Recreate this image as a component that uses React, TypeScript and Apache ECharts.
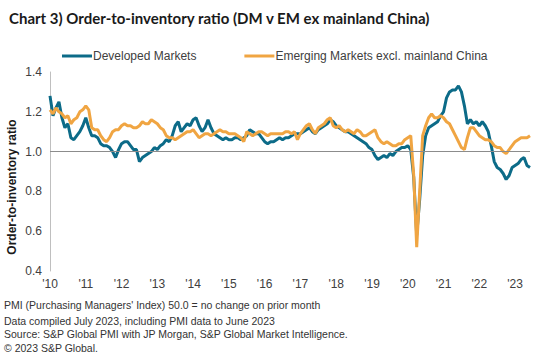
import React, { useEffect, useRef } from "react";
import * as echarts from "echarts";

const years = ["10","11","12","13","14","15","16","17","18","19","20","21","22","23"];

const dm2010 = [1.28,1.18,1.22,1.25,1.17,1.12,1.14,1.07,1.06,1.08,1.10,1.13];
const dm2011 = [1.17,1.12,1.08,1.08,1.07,1.04,1.03,1.03,1.02,1.00,0.97,1.01];
const dm2012 = [1.04,1.05,1.05,1.03,1.01,1.01,0.95,0.97,0.98,0.99,1.00,1.02];
const dm2013 = [1.01,1.03,1.04,1.06,1.05,1.08,1.13,1.15,1.10,1.12,1.14,1.13];
const dm2014 = [1.16,1.17,1.13,1.10,1.12,1.16,1.12,1.09,1.08,1.07,1.06,1.07];
const dm2015 = [1.06,1.06,1.07,1.07,1.06,1.07,1.08,1.11,1.10,1.09,1.09,1.07];
const dm2016 = [1.05,1.04,1.05,1.05,1.06,1.07,1.06,1.07,1.07,1.08,1.09,1.09];
const dm2017 = [1.09,1.10,1.11,1.12,1.10,1.09,1.11,1.12,1.13,1.14,1.16,1.15];
const dm2018 = [1.13,1.12,1.11,1.10,1.10,1.09,1.08,1.07,1.06,1.05,1.04,1.02];
const dm2019 = [1.01,0.98,0.96,0.97,0.98,0.97,0.99,0.98,1.00,1.01,1.02,1.02];
const dm2020 = [1.03,1.01,0.87,0.58,0.76,0.98,1.08,1.12,1.13,1.14,1.15,1.18];
const dm2021 = [1.20,1.27,1.30,1.31,1.31,1.33,1.30,1.23,1.14,1.16,1.14,1.15];
const dm2022 = [1.13,1.15,1.13,1.10,1.03,0.95,0.92,0.91,0.89,0.86,0.88,0.92];
const dm2023 = [0.93,0.94,0.96,0.97,0.93,0.92];

const em2010 = [1.21,1.19,1.22,1.20,1.19,1.17,1.18,1.14,1.16,1.17,1.20,1.21];
const em2011 = [1.23,1.21,1.12,1.11,1.11,1.08,1.06,1.05,1.07,1.10,1.11,1.11];
const em2012 = [1.13,1.14,1.13,1.13,1.12,1.12,1.13,1.15,1.14,1.14,1.16,1.15];
const em2013 = [1.14,1.12,1.11,1.08,1.07,1.07,1.06,1.07,1.08,1.09,1.10,1.10];
const em2014 = [1.11,1.09,1.07,1.08,1.09,1.09,1.08,1.09,1.10,1.11,1.10,1.10];
const em2015 = [1.09,1.09,1.09,1.08,1.07,1.05,1.10,1.09,1.08,1.09,1.10,1.10];
const em2016 = [1.09,1.08,1.09,1.09,1.09,1.09,1.09,1.10,1.10,1.09,1.10,1.06];
const em2017 = [1.09,1.11,1.13,1.14,1.11,1.09,1.12,1.13,1.14,1.16,1.17,1.13];
const em2018 = [1.12,1.13,1.11,1.10,1.11,1.10,1.09,1.11,1.10,1.08,1.08,1.09];
const em2019 = [1.10,1.11,1.07,1.05,1.04,1.05,1.04,1.03,1.03,1.04,1.04,1.06];
const em2020 = [1.07,1.08,0.88,0.52,0.80,1.08,1.13,1.17,1.19,1.17,1.17,1.18];
const em2021 = [1.17,1.15,1.14,1.11,1.08,1.05,1.02,1.01,1.07,1.12,1.12,1.10];
const em2022 = [1.08,1.07,1.06,1.06,1.05,1.03,1.02,1.02,1.00,0.99,1.01,1.03];
const em2023 = [1.05,1.06,1.07,1.07,1.07,1.08];

const developed = [
  ...dm2010, ...dm2011, ...dm2012, ...dm2013, ...dm2014, ...dm2015, ...dm2016,
  ...dm2017, ...dm2018, ...dm2019, ...dm2020, ...dm2021, ...dm2022, ...dm2023,
];
const emerging = [
  ...em2010, ...em2011, ...em2012, ...em2013, ...em2014, ...em2015, ...em2016,
  ...em2017, ...em2018, ...em2019, ...em2020, ...em2021, ...em2022, ...em2023,
];

const months = developed.map((_, i) => {
  const y = years[Math.floor(i / 12)];
  const m = (i % 12) + 1;
  return `20${y}-${m < 10 ? "0" + m : m}`;
});

const footer = [
  "PMI (Purchasing Managers' Index) 50.0 = no change on prior month",
  "Data compiled July 2023, including PMI data to June 2023",
  "Source: S&P Global PMI with JP Morgan, S&P Global Market Intelligence.",
  "\u00a9 2023 S&P Global.",
];

const TEAL = "#0c6b88";
const ORANGE = "#f0a542";
const FONT = "'Liberation Sans', Arial, sans-serif";

export default function App() {
  const ref = useRef<HTMLDivElement>(null);
  useEffect(() => {
    if (!ref.current) return;
    const chart = echarts.init(ref.current, null, { renderer: "svg" });
    const footerY = [305, 321, 334, 348];
    chart.setOption({
      animation: false,
      backgroundColor: "#ffffff",
      title: {
        text: "Chart 3) Order-to-inventory ratio (DM v EM ex mainland China)",
        left: 4,
        top: 5,
        textStyle: {
          fontFamily: "Lato, 'Open Sans', sans-serif",
          fontWeight: "bold",
          fontSize: 15,
          color: "#1a1a1a",
        },
      },
      legend: {
        left: 57,
        top: 45,
        itemWidth: 30,
        itemHeight: 3,
        itemGap: 48,
        icon: "rect",
        textStyle: { fontFamily: FONT, fontSize: 12, color: "#404040", padding: [0, 0, 0, -4] },
        data: ["Developed Markets", "Emerging Markets excl. mainland China"],
      },
      grid: { left: 50, right: 7, top: 72, bottom: 85, containLabel: false },
      xAxis: {
        type: "category",
        data: months,
        boundaryGap: false,
        axisLine: { show: false },
        axisTick: { show: false },
        splitLine: { show: false },
        axisLabel: {
          interval: (i: number) => i % 12 === 0,
          formatter: (v: string) => "'" + v.slice(2, 4),
          fontFamily: FONT,
          fontSize: 12,
          color: "#404040",
          margin: 7,
        },
      },
      yAxis: {
        type: "value",
        min: 0.4,
        max: 1.4,
        interval: 0.2,
        axisLine: { show: true, lineStyle: { color: "#bfbfbf", width: 1 } },
        axisTick: { show: false },
        splitLine: { show: false },
        axisLabel: {
          formatter: (v: number) => v.toFixed(1),
          fontFamily: FONT,
          fontSize: 12,
          color: "#404040",
          margin: 8,
        },
      },
      graphic: [
        {
          type: "text",
          x: 12,
          y: 187,
          rotation: Math.PI / 2,
          style: {
            text: "Order-to-inventory ratio",
            fontFamily: FONT,
            fontWeight: "bold",
            fontSize: 12,
            fill: "#1a1a1a",
            align: "center",
            verticalAlign: "middle",
          },
        },
        ...footer.map((t, i) => ({
          type: "text",
          x: 4,
          y: footerY[i],
          style: {
            text: t,
            fontFamily: FONT,
            fontSize: 10.5,
            fill: "#333333",
            verticalAlign: "middle",
          },
        })),
      ],
      series: [
        {
          name: "baseline",
          type: "line",
          data: [],
          z: 1,
          markLine: {
            silent: true,
            symbol: "none",
            label: { show: false },
            lineStyle: { color: "#8c8c8c", width: 1, type: "solid" },
            data: [{ yAxis: 1.0 }],
          },
        },
        {
          name: "Developed Markets",
          type: "line",
          data: developed,
          showSymbol: false,
          symbol: "none",
          z: 3,
          color: TEAL,
          lineStyle: { color: TEAL, width: 3 },
        },
        {
          name: "Emerging Markets excl. mainland China",
          type: "line",
          data: emerging,
          showSymbol: false,
          symbol: "none",
          z: 4,
          color: ORANGE,
          lineStyle: { color: ORANGE, width: 3 },
        },
      ],
    });
    return () => chart.dispose();
  }, []);
  return <div ref={ref} style={{ width: 537, height: 356, position: "absolute", left: 0, top: 0 }} />;
}
